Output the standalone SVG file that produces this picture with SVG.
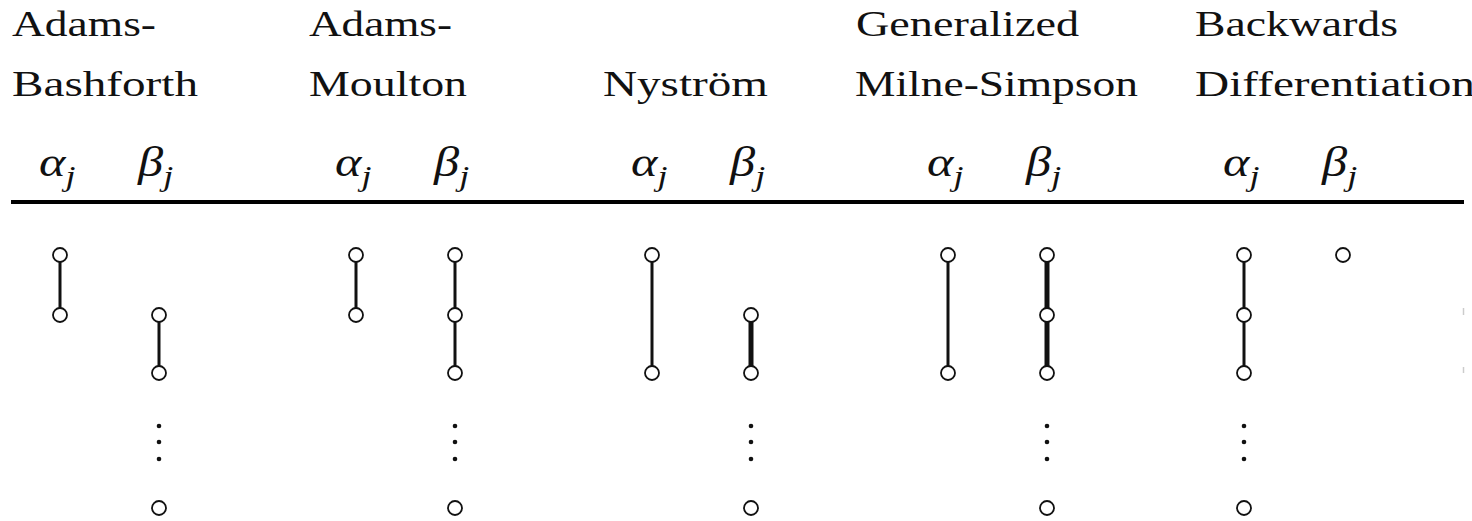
<svg xmlns="http://www.w3.org/2000/svg" width="1472" height="521" viewBox="0 0 1472 521">
<style>
.h{font-family:'Liberation Serif','DejaVu Serif',serif;font-size:36px;fill:#111}
.m{font-family:'Liberation Serif','DejaVu Serif',serif;font-style:italic;font-size:42px;fill:#111}
.sub{font-size:30px}
.n{fill:#fff;stroke:#111;stroke-width:1.8}
.e{stroke:#111;stroke-width:3}
.et{stroke:#111;stroke-width:5}
.d{fill:#111}
.rule{stroke:#000;stroke-width:4}
.faint{stroke:#ccc;stroke-width:1.5}
</style>
<g id="headers">
<text class="h" x="12" y="36" textLength="144" lengthAdjust="spacingAndGlyphs">Adams-</text>
<text class="h" x="12" y="96" textLength="186" lengthAdjust="spacingAndGlyphs">Bashforth</text>
<text class="h" x="309" y="36" textLength="143" lengthAdjust="spacingAndGlyphs">Adams-</text>
<text class="h" x="309" y="96" textLength="158" lengthAdjust="spacingAndGlyphs">Moulton</text>
<text class="h" x="603" y="96" textLength="165" lengthAdjust="spacingAndGlyphs">Nyström</text>
<text class="h" x="856" y="36" textLength="223" lengthAdjust="spacingAndGlyphs">Generalized</text>
<text class="h" x="855" y="96" textLength="283" lengthAdjust="spacingAndGlyphs">Milne-Simpson</text>
<text class="h" x="1195" y="36" textLength="203" lengthAdjust="spacingAndGlyphs">Backwards</text>
<text class="h" x="1195" y="96" textLength="280" lengthAdjust="spacingAndGlyphs">Differentiation</text>
</g>
<g id="math-labels">
<text class="m" transform="translate(39,176) scale(1.2,1)">α<tspan class="sub" x="22" y="10">j</tspan></text>
<text class="m" transform="translate(138,176) scale(1.2,1)">β<tspan class="sub" x="21" y="10">j</tspan></text>
<text class="m" transform="translate(335,176) scale(1.2,1)">α<tspan class="sub" x="22" y="10">j</tspan></text>
<text class="m" transform="translate(434,176) scale(1.2,1)">β<tspan class="sub" x="21" y="10">j</tspan></text>
<text class="m" transform="translate(631,176) scale(1.2,1)">α<tspan class="sub" x="22" y="10">j</tspan></text>
<text class="m" transform="translate(730,176) scale(1.2,1)">β<tspan class="sub" x="21" y="10">j</tspan></text>
<text class="m" transform="translate(927,176) scale(1.2,1)">α<tspan class="sub" x="22" y="10">j</tspan></text>
<text class="m" transform="translate(1026,176) scale(1.2,1)">β<tspan class="sub" x="21" y="10">j</tspan></text>
<text class="m" transform="translate(1223,176) scale(1.2,1)">α<tspan class="sub" x="22" y="10">j</tspan></text>
<text class="m" transform="translate(1322,176) scale(1.2,1)">β<tspan class="sub" x="21" y="10">j</tspan></text>
</g>
<line class="rule" x1="11" y1="202" x2="1464" y2="202"/>
<g id="connectors">
<line class="e" x1="60" y1="255" x2="60" y2="315"/>
<line class="e" x1="159" y1="315" x2="159" y2="373"/>
<line class="e" x1="356" y1="255" x2="356" y2="315"/>
<line class="e" x1="455" y1="255" x2="455" y2="315"/>
<line class="e" x1="455" y1="315" x2="455" y2="373"/>
<line class="e" x1="652" y1="255" x2="652" y2="373"/>
<line class="et" x1="751" y1="315" x2="751" y2="373"/>
<line class="e" x1="948" y1="255" x2="948" y2="373"/>
<line class="et" x1="1047" y1="255" x2="1047" y2="315"/>
<line class="et" x1="1047" y1="315" x2="1047" y2="373"/>
<line class="e" x1="1244" y1="255" x2="1244" y2="315"/>
<line class="e" x1="1244" y1="315" x2="1244" y2="373"/>
</g>
<g id="nodes">
<g id="ab-alpha"><circle class="n" cx="60" cy="255" r="7"/><circle class="n" cx="60" cy="315" r="7"/></g>
<g id="ab-beta"><circle class="n" cx="159" cy="315" r="7"/><circle class="n" cx="159" cy="373" r="7"/><circle class="d" cx="159" cy="426" r="2.3"/><circle class="d" cx="159" cy="442" r="2.3"/><circle class="d" cx="159" cy="459" r="2.3"/><circle class="n" cx="159" cy="508" r="7"/></g>
<g id="am-alpha"><circle class="n" cx="356" cy="255" r="7"/><circle class="n" cx="356" cy="315" r="7"/></g>
<g id="am-beta"><circle class="n" cx="455" cy="255" r="7"/><circle class="n" cx="455" cy="315" r="7"/><circle class="n" cx="455" cy="373" r="7"/><circle class="d" cx="455" cy="426" r="2.3"/><circle class="d" cx="455" cy="442" r="2.3"/><circle class="d" cx="455" cy="459" r="2.3"/><circle class="n" cx="455" cy="508" r="7"/></g>
<g id="ny-alpha"><circle class="n" cx="652" cy="255" r="7"/><circle class="n" cx="652" cy="373" r="7"/></g>
<g id="ny-beta"><circle class="n" cx="751" cy="315" r="7"/><circle class="n" cx="751" cy="373" r="7"/><circle class="d" cx="751" cy="426" r="2.3"/><circle class="d" cx="751" cy="442" r="2.3"/><circle class="d" cx="751" cy="459" r="2.3"/><circle class="n" cx="751" cy="508" r="7"/></g>
<g id="gms-alpha"><circle class="n" cx="948" cy="255" r="7"/><circle class="n" cx="948" cy="373" r="7"/></g>
<g id="gms-beta"><circle class="n" cx="1047" cy="255" r="7"/><circle class="n" cx="1047" cy="315" r="7"/><circle class="n" cx="1047" cy="373" r="7"/><circle class="d" cx="1047" cy="426" r="2.3"/><circle class="d" cx="1047" cy="442" r="2.3"/><circle class="d" cx="1047" cy="459" r="2.3"/><circle class="n" cx="1047" cy="508" r="7"/></g>
<g id="bd-alpha"><circle class="n" cx="1244" cy="255" r="7"/><circle class="n" cx="1244" cy="315" r="7"/><circle class="n" cx="1244" cy="373" r="7"/><circle class="d" cx="1244" cy="426" r="2.3"/><circle class="d" cx="1244" cy="442" r="2.3"/><circle class="d" cx="1244" cy="459" r="2.3"/><circle class="n" cx="1244" cy="508" r="7"/></g>
<g id="bd-beta"><circle class="n" cx="1343" cy="255" r="7"/></g>
</g>
<g id="edge-marks">
<line class="faint" x1="1463.5" y1="308" x2="1463.5" y2="315"/>
<line class="faint" x1="1463.5" y1="367" x2="1463.5" y2="373"/>
</g>
</svg>
